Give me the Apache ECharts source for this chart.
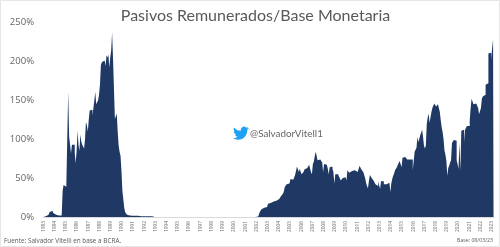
<!DOCTYPE html>
<html>
<head>
<meta charset="utf-8">
<style>html,body{margin:0;padding:0;background:#fff}#chart{width:500px;height:247px}</style>
<script src="https://cdn.jsdelivr.net/npm/echarts@6/dist/echarts.min.js"></script>
</head>
<body>
<div id="chart"></div>
<script>
// Ratio of remunerated liabilities to the monetary base, monthly, in percent.
const y1983to1987 = [
  0,0,1,2,3,3,4,6,8,8,7,5,
  4,3,3,2,2,2,2,2,2,33,41,42,
  39,42,44,161,103,101,82,93,94,93,83,69,
  85,111,93,85,106,97,93,92,88,100,122,118,
  110,125,137,138,138,130,131,150,161,145,143,150
];
const y1988to1992 = [
  157,170,195,199,200,201,203,194,208,205,209,192,
  205,214,237,204,204,126,125,133,110,92,84,79,
  60,34,33,12,6,4,3,2,2,2,2,1.5,
  1.5,1.5,1.5,1.5,1.5,1.5,1,1,1,1,1,1,
  1,1,1,1,1,1,1,1,1,0.8,0,0
];
const y1993to2001 = [
  0,0,0,0,0,0,0,0,0,0,0,0,
  0,0,0,0,0,0,0,0,0,0,0,0,
  0,0,0,0,0,0,0,0,0,0,0,0,
  0,0,0,0,0,0,0,0,0,0,0,0,
  0,0,0,0,0,0,0,0,0,0,0,0,
  0,0,0,0,0,0,0,0,0,0,0,0,
  0,0,0,0,0,0,0,0,0,0,0,0,
  0,0,0,0,0,0,0,0,0,0,0,0,
  0,0,0,0,0,0,0,0,0,0,0,0
];
const y2002to2010 = [
  0,0,0.5,2,6,8,10,11,12,12,12,13,
  13,17,17,18,18,19,20,20,20,21,21,23,
  23,24,25,27,29,30,33,39,40,42,41,43,
  44,49,50,48,48,49,54,56,65,66,58,62,
  58,55,57,58,61,63,63,65,65,67,67,58,
  55,68,71,78,84,79,73,72,74,76,74,70,
  58,68,68,67,66,62,55,64,66,65,62,58,
  43,55,55,55,55,52,50,47,48,50,50,51,
  50,47,60,61,57,58,59,59,60,60,62,60
];
const y2011to2023 = [
  58,58,60,66,67,61,60,58,54,50,44,40,
  37,46,54,53,50,50,47,45,42,41,40,46,
  44,36,46,46,46,42,41,42,42,43,44,42,
  32,43,49,53,56,60,61,64,67,68,72,73,
  64,76,78,77,78,77,74,76,74,73,75,74,
  60,72,84,85,89,103,96,97,105,107,112,103,
  92,88,92,120,128,133,121,123,135,140,143,146,
  146,142,144,145,145,135,124,115,109,100,85,80,
  72,53,63,66,70,73,95,97,99,100,98,73,
  68,62,96,59,111,112,112,96,112,114,117,116,
  117,124,140,152,150,145,144,146,148,145,140,132,
  131,140,152,155,155,157,170,171,172,210,212,211,
  202,217,228
];
const ratioPct = [].concat(y1983to1987, y1988to1992, y1993to2001, y2002to2010, y2011to2023);

const firstYear = 1983;
const monthLabels = ratioPct.map((_, i) => String(firstYear + Math.floor(i / 12)));
const yTicks = [0, 50, 100, 150, 200, 250];

const titleText = 'Pasivos Remunerados/Base Monetaria';
const handleText = '@SalvadorVitell1';
const sourceText = 'Fuente: Salvador Vitelli en base a BCRA.';
const baseText = 'Base: 08/03/23';

const FONT = '"Open Sans", "Noto Sans", sans-serif';
const HEAD_FONT = 'Lato, "Open Sans", sans-serif';
const BIRD = 'M23.953 4.57 a10 10 0 0 1 -2.825 .775 a4.958 4.958 0 0 0 2.163 -2.723 c-.951 .555 -2.005 .959 -3.127 1.184 a4.92 4.92 0 0 0 -8.384 4.482 C7.69 8.095 4.067 6.13 1.64 3.162 a4.822 4.822 0 0 0 -.666 2.475 c0 1.71 .87 3.213 2.188 4.096 a4.904 4.904 0 0 1 -2.228 -.616 v.06 a4.923 4.923 0 0 0 3.946 4.827 a4.996 4.996 0 0 1 -2.212 .085 a4.936 4.936 0 0 0 4.604 3.417 a9.867 9.867 0 0 1 -6.102 2.105 c-.39 0 -.779 -.023 -1.17 -.067 a13.995 13.995 0 0 0 7.557 2.209 c9.053 0 13.998 -7.496 13.998 -13.985 c0 -.21 0 -.42 -.015 -.63 A9.935 9.935 0 0 0 24 4.59 z';

// The bird icon is a registered shape so the graphic component can place it.
echarts.graphic.registerShape('birdIcon', echarts.graphic.extendPath(BIRD, {}));

const chart = echarts.init(document.getElementById('chart'), null, { renderer: 'canvas' });
chart.setOption({
  animation: false,
  backgroundColor: '#fff',
  title: {
    text: titleText, left: 250.5, top: 3, textAlign: 'center',
    textStyle: { fontFamily: HEAD_FONT, fontSize: 16, fontWeight: 'normal', color: '#595959' }
  },
  grid: { left: 43, right: 6, top: 22.5, bottom: 30 },
  xAxis: {
    type: 'category',
    data: monthLabels,
    boundaryGap: true,
    axisLine: { lineStyle: { color: '#d9d9d9', width: 1 } },
    axisTick: { show: false },
    splitLine: { show: false },
    axisLabel: {
      rotate: 90, margin: 4, fontFamily: FONT, fontSize: 4.8, color: '#6b6b6b',
      interval: (i) => i % 12 === 0
    }
  },
  yAxis: {
    type: 'value', min: yTicks[0], max: yTicks[yTicks.length - 1], interval: 50,
    axisLine: { show: false }, axisTick: { show: false }, splitLine: { show: false },
    axisLabel: { margin: 9, fontFamily: FONT, fontSize: 9.5, color: '#666', formatter: '{value}%' }
  },
  // Month-wide columns drawn as one stepped fill, so adjacent months leave no seams.
  series: [{
    type: 'line', data: ratioPct, step: 'middle', symbol: 'none', showSymbol: false,
    lineStyle: { width: 0 }, areaStyle: { color: '#1f3864', opacity: 1 },
    silent: true, sampling: 'none'
  }],
  graphic: [
    { type: 'rect', silent: true, shape: { x: 0.5, y: 0.5, width: 499, height: 246 },
      style: { fill: 'none', stroke: '#e6e6e6', lineWidth: 1 } },
    { type: 'birdIcon', silent: true, x: 233, y: 125.3, scaleX: 0.66, scaleY: 0.66,
      style: { fill: '#1da1f2' } },
    { type: 'text', silent: true, left: 250, top: 129,
      style: { text: handleText, font: '9.8px ' + HEAD_FONT, fill: '#666' } },
    { type: 'text', silent: true, left: 4, top: 238,
      style: { text: sourceText, font: '6.4px ' + FONT, fill: '#595959' } },
    { type: 'text', silent: true, right: 7, top: 238,
      style: { text: baseText, font: '5.2px ' + FONT, fill: '#595959' } }
  ]
});
</script>
</body>
</html>
